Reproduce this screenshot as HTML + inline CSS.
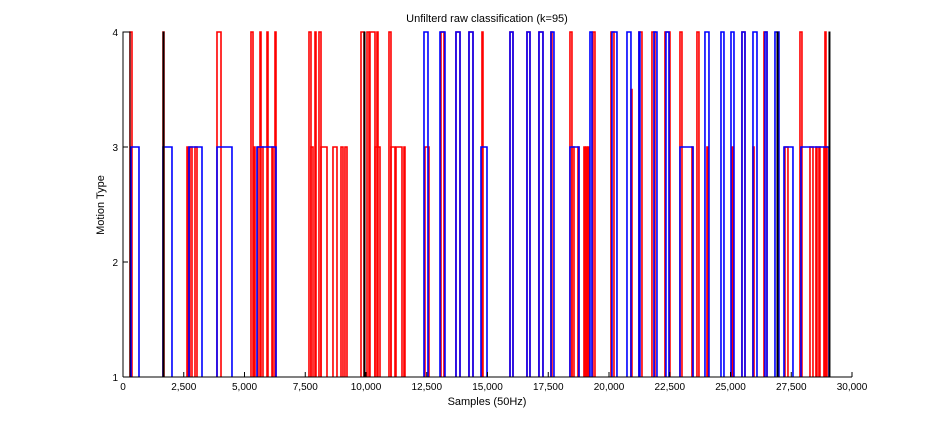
<!DOCTYPE html>
<html><head><meta charset="utf-8"><style>
html,body{margin:0;padding:0;background:#fff;}
svg{display:block;font-family:"Liberation Sans",sans-serif;}
</style></head><body>
<svg id="chart" width="945" height="424"></svg>
<script>
const xTicks=[0,2500,5000,7500,10000,12500,15000,17500,20000,22500,25000,27500,30000];
const xTickLabels=["0","2,500","5,000","7,500","10,000","12,500","15,000","17,500","20,000","22,500","25,000","27,500","30,000"];
const yTicks=[1,2,3,4];
const yTickLabels=["1","2","3","4"];
const redStart=[288,1646,2634,2757,2963,3868,5267,5391,5555,5638,5926,6131,6255,7654,7736,7901,8065,8148,8641,8971,9135,9794,10041,10164,10452,10370,10946,11028,11234,11563,12427,13086,13703,14238,14773,15926,16625,17118,17612,18394,18476,18723,18970,19052,19135,19340,20081,20904,21233,21768,22303,22921,23414,23620,24032,25061,25472,25925,26378,27242,27859,28271,28517,28641,28846,28888];
const redEnd=[370,1687,2675,2839,3045,4033,5350,5432,5761,5679,5967,6173,6296,7736,7819,7942,8148,8395,8806,9053,9218,9917,10123,10370,10493,10576,11028,11193,11481,11604,12592,13209,13868,14403,14814,16049,16748,17283,17653,18476,18559,18764,19011,19093,19176,19423,20205,20945,21357,21892,22509,23003,23456,23702,24073,25102,25596,25967,26502,27365,27941,28394,28558,28682,28970,28929];
const redLevel=[4,4,3,3,3,4,4,3,3,4,4,3,4,4,3,4,4,3,3,3,3,4,4,4,4,3,4,3,3,3,3,4,4,4,4,4,4,4,4,4,3,3,3,3,3,4,4,3.5,4,4,4,4,3,4,3,3,4,3,4,3,4,3,3,3,3,4];
const blueStart=[329,1646,2716,3868,5514,12386,13045,13703,14238,14732,15926,16625,17118,17612,18394,19217,20122,20740,21233,21850,22344,22921,23949,24608,25020,25472,25925,26419,26830,27201,27900];
const blueEnd=[658,2016,3251,4485,6296,12551,13250,13868,14403,14979,16049,16748,17283,17735,18764,19299,20328,20904,21274,21974,22468,23456,24114,24731,25143,25596,26090,26502,26995,27571,29052];
const blueLevel=[3,3,3,3,3,4,4,4,4,3,4,4,4,4,3,4,4,4,4,4,4,3,4,4,4,4,4,4,4,3,3];
const blackStart=[0,1646,9917,26913,29052];
const blackEnd=[288,1687,9958,26954,29093];
const blackLevel=[4,4,4,4,4];

const NS="http://www.w3.org/2000/svg";
const svg=document.getElementById('chart');
const X0=123,X1=852,Y0=377,Y1=32;
const xs=v=>X0+(v-0)/(30000-0)*(X1-X0);
const ys=v=>Y0-(v-1)/(4-1)*(Y0-Y1);
function mk(tag,attrs){const e=document.createElementNS(NS,tag);for(const k in attrs)e.setAttribute(k,attrs[k]);svg.appendChild(e);return e;}

function drawSeries(st,en,lv,color,w,name){
  for(let i=0;i<st.length;i++){
    const a=xs(st[i]),b=xs(en[i]),y=ys(lv[i]);
    const p=mk('polyline',{points:`${a},${ys(1)} ${a},${y} ${b},${y} ${b},${ys(1)}`,fill:'none',stroke:color,'stroke-width':w});
    
    
  }
}
drawSeries(redStart,redEnd,redLevel,'#ff0000',1.6,'red');
drawSeries(blueStart,blueEnd,blueLevel,'#0000ff',1.6,'blue');
drawSeries(blackStart,blackEnd,blackLevel,'#000000',1,'black');

// axes
let ax=mk('line',{x1:X0,y1:Y0,x2:X1,y2:Y0,stroke:'#000','stroke-width':1});


let ay=mk('line',{x1:X0,y1:Y0,x2:X0,y2:Y1,stroke:'#000','stroke-width':1});



xTicks.forEach((v,i)=>{
  const x=xs(v);
  const t=mk('line',{x1:x,y1:Y0,x2:x,y2:Y0-5,stroke:'#000'});
  
  
  const l=mk('text',{x:x,y:Y0+13,'font-size':10,'text-anchor':'middle'});
  l.textContent=xTickLabels[i];
  
  
});
yTicks.forEach((v,i)=>{
  const y=ys(v);
  const t=mk('line',{x1:X0,y1:y,x2:X0+5,y2:y,stroke:'#000'});
  
  
  const l=mk('text',{x:X0-5,y:y+4,'font-size':10,'text-anchor':'end'});
  l.textContent=yTickLabels[i];
  
  
});
const title=mk('text',{x:487,y:22,'font-size':11,'text-anchor':'middle'});
title.textContent='Unfilterd raw classification (k=95)';


const xl=mk('text',{x:487,y:405,'font-size':11,'text-anchor':'middle'});
xl.textContent='Samples (50Hz)';


const yl=mk('text',{x:0,y:0,'font-size':11,'text-anchor':'middle',transform:'translate(104,205) rotate(-90)'});
yl.textContent='Motion Type';


</script>
</body></html>
